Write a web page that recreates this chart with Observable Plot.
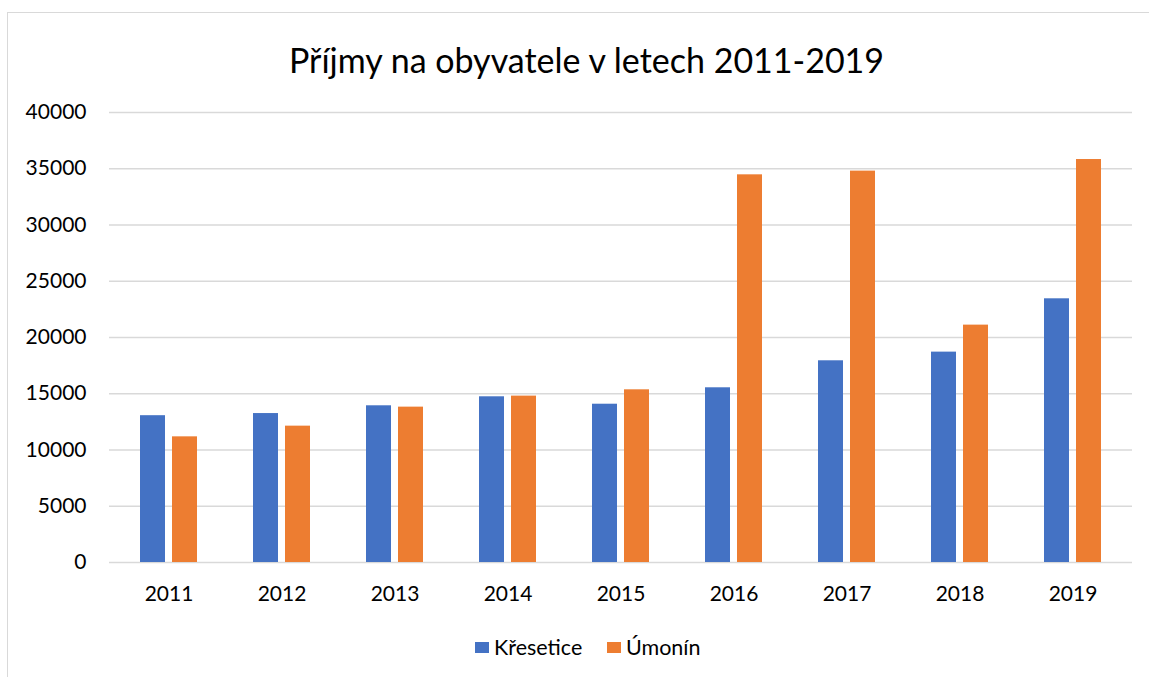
<!DOCTYPE html>
<html>
<head>
<meta charset="utf-8">
<script src="https://cdn.jsdelivr.net/npm/d3@7"></script>
<script src="https://cdn.jsdelivr.net/npm/@observablehq/plot@0.6"></script>
<style>
  html, body { margin: 0; padding: 0; background: #fff; }
  body { width: 1149px; height: 677px; position: relative; overflow: hidden; font-family: Lato, "Open Sans", sans-serif; color: #000; }
  #frame { position: absolute; left: 7px; top: 12px; width: 1170px; height: 720px; border-left: 1.5px solid #d9d9d9; border-top: 1.5px solid #d9d9d9; box-sizing: border-box; }
  #title { position: absolute; left: 0; width: 1173px; top: 40px; text-align: center; font-size: 34px; line-height: 40px; white-space: nowrap; }
  #chart { position: absolute; left: 0; top: 0; }
  .sw { position: absolute; width: 14px; height: 11px; }
  .lt { position: absolute; font-size: 21.5px; line-height: 24px; white-space: nowrap; }
</style>
</head>
<body>
<div id="frame"></div>
<div id="chart"></div>
<div id="title">Příjmy na obyvatele v letech 2011-2019</div>
<div class="sw" style="left:475px;top:642px;background:#4472C4"></div>
<div class="lt" style="left:494px;top:635px">Křesetice</div>
<div class="sw" style="left:607px;top:642px;background:#ED7D31"></div>
<div class="lt" style="left:626px;top:635px">Úmonín</div>
<script>
const years = ["2011", "2012", "2013", "2014", "2015", "2016", "2017", "2018", "2019"];
const series = ["Křesetice", "Úmonín"];
const kresetice = [13050, 13240, 13930, 14730, 14070, 15530, 17930, 18700, 23440];
const umonin = [11170, 12120, 13810, 14790, 15350, 34460, 34790, 21100, 35820];
const colors = ["#4472C4", "#ED7D31"];
const yTicks = [0, 5000, 10000, 15000, 20000, 25000, 30000, 35000, 40000];

const data = [];
years.forEach((y, i) => {
  data.push({year: y, series: series[0], value: kresetice[i]});
  data.push({year: y, series: series[1], value: umonin[i]});
});

const chart = Plot.plot({
  width: 1149,
  height: 620,
  marginTop: 112,
  marginBottom: 58,
  marginLeft: 109,
  marginRight: 17,
  style: {fontFamily: "Lato, 'Open Sans', sans-serif", fontSize: "21px", color: "#000", background: "transparent", overflow: "visible"},
  x: {domain: years, paddingInner: 0.492, paddingOuter: 0.246, label: null},
  y: {domain: [0, 40000], label: null},
  marks: [
    Plot.ruleY(yTicks, {stroke: "#d9d9d9", strokeWidth: 1.5}),
    Plot.barY(data.filter(d => d.series === series[0]), {x: "year", y: "value", fill: colors[0], insetRight: 32}),
    Plot.barY(data.filter(d => d.series === series[1]), {x: "year", y: "value", fill: colors[1], insetLeft: 32}),
    Plot.axisY(yTicks, {tickSize: 0, tickPadding: 23, tickFormat: d => String(d), fontSize: 21, label: null}),
    Plot.axisX({tickSize: 0, tickPadding: 24, fontSize: 21, label: null})
  ]
});
document.getElementById("chart").appendChild(chart);
</script>
</body>
</html>
